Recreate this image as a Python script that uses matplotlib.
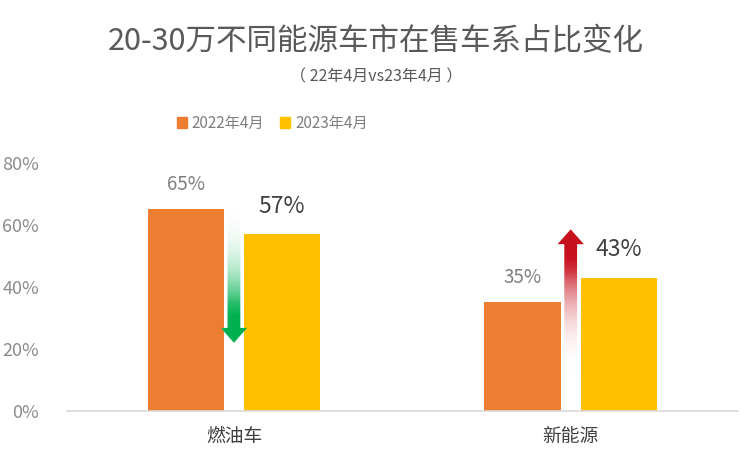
import numpy as np
import matplotlib
matplotlib.use('Agg')
import matplotlib.pyplot as plt
from matplotlib.patches import Polygon, Patch

plt.rcParams['font.family'] = ['Noto Sans CJK SC', 'DejaVu Sans']

categories = ['燃油车', '新能源']
share_2022 = [65, 35]
share_2023 = [57, 43]
series_names = ['2022年4月', '2023年4月']
yticks = [0, 20, 40, 60, 80]
# decorative change arrows: tail value -> tip value
arrow_tail = [65, 13]
arrow_tip = [22, 58.6]
arrow_colors = ['#00B050', '#C8101E']

orange = '#ED7D31'
yellow = '#FFC000'

fig = plt.figure(figsize=(7.52, 4.61), dpi=100)
ax = fig.add_axes([0.089, 0.1085, 0.892, 0.538])

x = np.arange(len(categories))
off = 0.143
w = 0.226
ax.bar(x - off, share_2022, width=w, color=orange, zorder=2)
ax.bar(x + off, share_2023, width=w, color=yellow, zorder=2)

for i in range(len(categories)):
    ax.text(x[i] - off, share_2022[i] + 8.1, f'{share_2022[i]}%', ha='center', va='center',
            fontsize=13.5, color='#7f7f7f')
    ax.text(x[i] + off, share_2023[i] + 9.0, f'{share_2023[i]}%', ha='center', va='center',
            fontsize=16.5, color='#404040')


def gradient_arrow(ax, xc, y0, y1, color):
    sw, hw, hl = 0.019, 0.039, 4.8
    d = np.sign(y1 - y0)
    hb = y1 - d * hl
    verts = [(xc - sw, y0), (xc + sw, y0), (xc + sw, hb), (xc + hw, hb),
             (xc, y1), (xc - hw, hb), (xc - sw, hb)]
    poly = Polygon(verts, closed=True, facecolor='none', edgecolor='none')
    ax.add_patch(poly)
    lo, hi = min(y0, y1), max(y0, y1)
    ys = np.linspace(lo, hi, 256)
    t = np.clip((ys - y0) / (y1 - y0), 0, 1)
    a = np.clip(t / 0.8, 0, 1) ** 1.3
    rgb = np.array(matplotlib.colors.to_rgb(color))
    img = np.zeros((256, 2, 4))
    for k in range(3):
        img[:, :, k] = ((1 - a) * 1.0 + a * rgb[k])[:, None]
    img[:, :, 3] = np.clip(0.15 + a, 0, 1)[:, None]
    im = ax.imshow(img, extent=[xc - hw, xc + hw, lo, hi], origin='lower',
                   aspect='auto', zorder=3, interpolation='bilinear')
    im.set_clip_path(poly)


for i in range(len(categories)):
    gradient_arrow(ax, x[i], arrow_tail[i], arrow_tip[i], arrow_colors[i])

ax.set_xlim(-0.496, 1.496)
ax.set_ylim(0, 80)
ax.set_yticks(yticks)
ax.set_yticklabels([f'{v}%' for v in yticks], fontsize=13, color='#8c8c8c')
ax.set_xticks(x)
ax.set_xticklabels(categories, fontsize=13.5, color='#404040')
ax.tick_params(axis='y', length=0, pad=20)
ax.tick_params(axis='x', length=0, pad=11)
for s in ['top', 'right', 'left']:
    ax.spines[s].set_visible(False)
ax.spines['bottom'].set_color('#d9d9d9')
ax.spines['bottom'].set_linewidth(1.2)

fig.text(0.5, 0.91, '20-30万不同能源车市在售车系占比变化', ha='center', va='center',
         fontsize=22, color='#595959')
fig.text(0.5, 0.834, '（ 22年4月vs23年4月 ）', ha='center', va='center',
         fontsize=11.5, color='#595959')

handles = [Patch(color=orange), Patch(color=yellow)]
leg = fig.legend(handles, series_names, loc='center', bbox_to_anchor=(0.362, 0.733),
                 ncol=2, frameon=False, fontsize=11, handlelength=0.7, handleheight=0.7,
                 handletextpad=0.3, columnspacing=1.0)
for t in leg.get_texts():
    t.set_color('#7f7f7f')

fig.savefig('out.png', dpi=100, facecolor='white')
